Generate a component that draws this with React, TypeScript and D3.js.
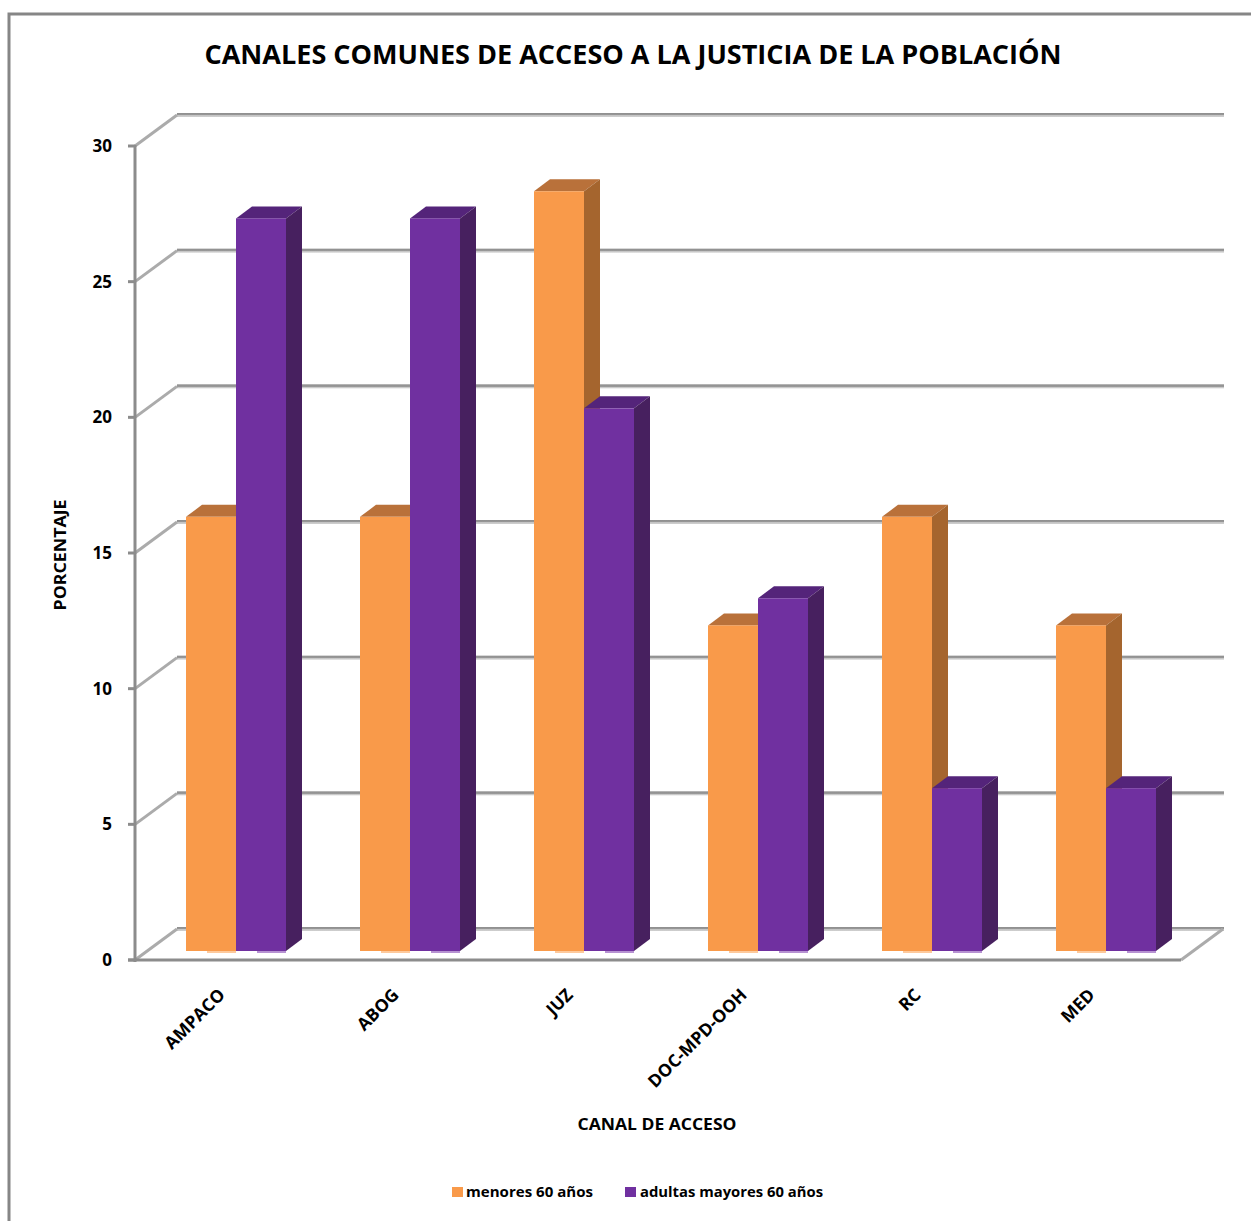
import React from "react";
import * as d3 from "d3";

const categories = ["AMPACO", "ABOG", "JUZ", "DOC-MPD-OOH", "RC", "MED"];
const seriesNames = ["menores 60 años", "adultas mayores 60 años"];
const menores = [16, 16, 28, 12, 16, 12];
const adultas = [27, 27, 20, 13, 6, 6];
const yTicks = [0, 5, 10, 15, 20, 25, 30];

const titleText = "CANALES COMUNES DE ACCESO A LA JUSTICIA DE LA POBLACIÓN";
const xTitle = "CANAL DE ACCESO";
const yTitle = "PORCENTAJE";

const faces = [
  { front: "#F99A4A", side: "#A5652E", top: "#B9713A", foot: "#FDC99C" },
  { front: "#7030A0", side: "#47205F", top: "#54247A", foot: "#B692D1" },
];

const FONT = "'Open Sans', 'Noto Sans', sans-serif";
const GREY = "#8C8C8C";

// Oblique offset between the front plane and the back wall / bar depth.
const WALL_DX = 42;
const WALL_DY = -31;
const BAR_DX = 16;
const BAR_DY = -12;
const BAR_LIFT = 9;

export default function App() {
  const x = d3.scaleBand<string>().domain(categories).range([135, 1179]);
  const y = d3.scaleLinear().domain([0, 30]).range([960, 146]);
  const inner = d3.scaleBand<number>().domain([0, 1]).range([0, 100]);
  const groupInset = 51;

  const series = [menores, adultas];

  return (
    <svg
      width={1251}
      height={1221}
      style={{ position: "absolute", left: 0, top: 0, background: "#fff" }}
      fontFamily={FONT}
    >
      <defs>
        <linearGradient id="wallLine" x1="0" y1="0" x2="0" y2="1">
          <stop offset="0" stopColor="#8E8E8E" />
          <stop offset="0.6" stopColor="#9A9A9A" />
          <stop offset="0.6" stopColor="#C4C4C4" />
          <stop offset="1" stopColor="#D0D0D0" />
        </linearGradient>
      </defs>

      {/* outer chart border */}
      <path d="M9 1221 V14 H1251" fill="none" stroke="#868686" strokeWidth={3} />

      <text x={633} y={64} textAnchor="middle" fontSize={26} fontWeight={700} fill="#000" textLength={857} lengthAdjust="spacingAndGlyphs">
        {titleText}
      </text>

      {/* back wall gridlines with the slanted side-wall segments */}
      {yTicks.map((t) => (
        <g key={t}>
          <rect x={135 + WALL_DX} y={y(t) + WALL_DY - 2} width={1224 - 135 - WALL_DX} height={4} fill="url(#wallLine)" />
          <line x1={135} y1={y(t)} x2={135 + WALL_DX} y2={y(t) + WALL_DY} stroke="#ABABAB" strokeWidth={3} />
        </g>
      ))}
      <line x1={1181} y1={960} x2={1181 + 42} y2={960 - 31} stroke="#ABABAB" strokeWidth={3} />

      {/* axes */}
      <line x1={135} y1={145} x2={135} y2={962} stroke={GREY} strokeWidth={3} />
      <line x1={128} y1={960} x2={1181} y2={960} stroke={GREY} strokeWidth={3} />
      {yTicks.map((t) => (
        <line key={t} x1={128} y1={y(t)} x2={135} y2={y(t)} stroke={GREY} strokeWidth={3} />
      ))}

      {/* bars */}
      {categories.map((c, i) =>
        series.map((vals, s) => {
          const left = x(c)! + groupInset + inner(s)!;
          const w = inner.bandwidth();
          const base = y(0) - BAR_LIFT;
          const topY = y(vals[i]) - BAR_LIFT;
          const f = faces[s];
          const right = left + w;
          return (
            <g key={c + s}>
              <path
                d={`M${left} ${topY} L${left + BAR_DX} ${topY + BAR_DY} H${right + BAR_DX} L${right} ${topY} Z`}
                fill={f.top}
              />
              <path
                d={`M${right} ${topY} L${right + BAR_DX} ${topY + BAR_DY} V${base + BAR_DY} L${right} ${base} Z`}
                fill={f.side}
              />
              <rect x={left} y={topY} width={w} height={base - topY} fill={f.front} />
              <rect x={left + 21} y={base} width={w - 21} height={2} fill={f.foot} />
            </g>
          );
        })
      )}

      {/* value labels */}
      {yTicks.map((t) => (
        <text key={t} x={112} y={y(t) + 6} textAnchor="end" fontSize={17} fontWeight={700} fill="#000">
          {t}
        </text>
      ))}

      {/* category labels */}
      {categories.map((c) => {
        const cx = x(c)! + x.bandwidth() / 2 + 4;
        return (
          <text
            key={c}
            transform={`translate(${cx},${996}) rotate(-45)`}
            textAnchor="end"
            fontSize={17.5}
            fontWeight={700}
            fill="#000"
          >
            {c}
          </text>
        );
      })}

      <text x={657} y={1130} textAnchor="middle" fontSize={15.5} fontWeight={700} textLength={159} lengthAdjust="spacingAndGlyphs">
        {xTitle}
      </text>
      <text transform="translate(66,555) rotate(-90)" textAnchor="middle" fontSize={15.5} fontWeight={700} textLength={111} lengthAdjust="spacingAndGlyphs">
        {yTitle}
      </text>

      {/* legend */}
      <rect x={452} y={1187} width={11} height={10} fill={faces[0].front} />
      <text x={466} y={1197} fontSize={15} fontWeight={700} textLength={127} lengthAdjust="spacingAndGlyphs">
        {seriesNames[0]}
      </text>
      <rect x={625} y={1187} width={11} height={10} fill={faces[1].front} />
      <text x={640} y={1197} fontSize={15} fontWeight={700} textLength={183} lengthAdjust="spacingAndGlyphs">
        {seriesNames[1]}
      </text>
    </svg>
  );
}
